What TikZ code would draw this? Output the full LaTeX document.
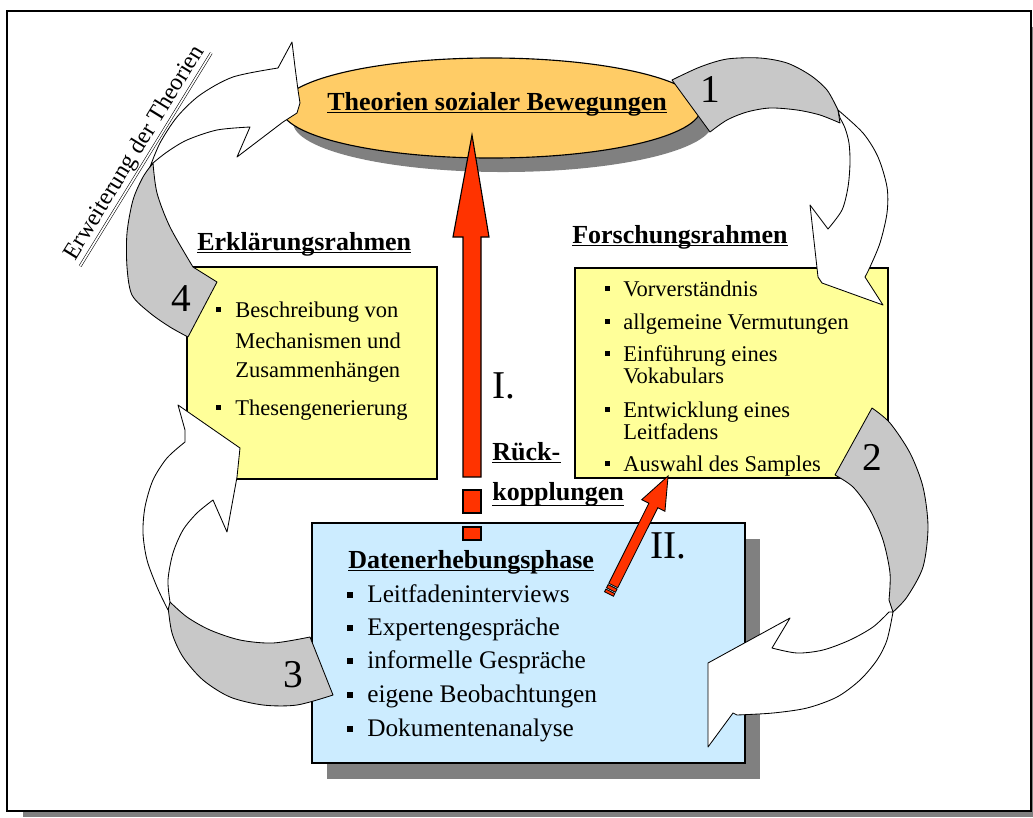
\documentclass[tikz,border=0pt]{standalone}
\usepackage{fontspec}
\setmainfont{Liberation Serif}
\usetikzlibrary{shapes.geometric}
\definecolor{orangefill}{HTML}{FFCC66}
\definecolor{yellowfill}{HTML}{FFFF99}
\definecolor{bluefill}{HTML}{CCECFF}
\definecolor{bandgray}{HTML}{C8C8C8}
\definecolor{shadowgray}{HTML}{808080}
\definecolor{arrowred}{HTML}{FF3300}
\newcommand{\bulletsq}[2]{\fill (#1) ++(-#2,-#2) rectangle ++(2*#2,2*#2);}

\begin{document}
\begin{tikzpicture}[x=0.025cm, y=-0.025cm,
    title/.style={font=\fontsize{18.5}{20}\selectfont\bfseries, anchor=base west, inner sep=0pt},
    item/.style={font=\fontsize{16}{17}\selectfont, anchor=base west, inner sep=0pt},
    dataitem/.style={font=\fontsize{18}{19}\selectfont, anchor=base west, inner sep=0pt},
    num/.style={font=\fontsize{28}{30}\selectfont, anchor=base, inner sep=0pt},
    band/.style={draw=black, line width=0.6pt, line join=round},
    uline/.style={line width=0.8pt}]
    \useasboundingbox (0,0) rectangle (1033,817);
    % frame
    \fill [shadowgray] (23,27) rectangle (1033,817);
    \draw [fill=white, line width=1pt] (7,11) rectangle (1031,811);

    % theory ellipse
    \node [ellipse, fill=shadowgray, minimum width=10.5cm, minimum height=2.5cm] (theoshadow) at (503,122) {};
    \node [ellipse, draw, line width=0.8pt, fill=orangefill, minimum width=10.5cm, minimum height=2.5cm] (theo) at (491,108) {};
    \node [title] (theotxt) at (327,110) {Theorien sozialer Bewegungen};
    \draw [uline] ([yshift=-2pt]theotxt.base west) -- ([yshift=-2pt]theotxt.base east);

    % boxes
    \draw [fill=yellowfill, line width=0.8pt] (187,267) rectangle (437,479);
    \draw [fill=yellowfill, line width=0.8pt] (575,268) rectangle (888,478);
    \fill [shadowgray] (327,539) rectangle (760,779);
    \draw [fill=bluefill, line width=0.8pt] (312,523) rectangle (745,763);

    % red arrow I
    \filldraw [fill=arrowred, line width=0.8pt] (463,477)--(463,237)--(453,237)--(472,135)--(489,237)--(481,237)--(481,477)--cycle;
    \filldraw [fill=arrowred, line width=0.8pt] (463,490) rectangle (481,513);
    \filldraw [fill=arrowred, line width=0.8pt] (463,527) rectangle (481,540);

    % red arrow II
    \begin{scope}[shift={(609,594)}, rotate=63.4]
      \filldraw [fill=arrowred, line width=0.6pt] (0,-5) rectangle (3,5);
      \filldraw [fill=arrowred, line width=0.6pt] (4.5,-5) rectangle (8,5);
      \filldraw [fill=arrowred, line width=0.6pt] (9.5,-5)--(99,-5)--(99,-13)--(132,0)--(99,13)--(99,5)--(9.5,5)--cycle;
    \end{scope}

    % curved arrow 1
    \filldraw [band, fill=bandgray] plot [smooth] coordinates {(672,80) (700,67) (727,59) (760,58) (787,63) (810,75) (827,90) (838,110)}
      -- plot [smooth] coordinates {(840,123) (820,115) (797,110) (770,108) (747,112) (727,120) (710,132)} -- cycle;
    \filldraw [band, fill=white] plot [smooth] coordinates {(838,110) (863,133) (878,157) (887,187) (887,213) (880,243) (870,267) (865,277)}
      -- (883,305) -- (822,283) -- (818,277) -- (810,205) -- (828,229)
      -- plot [smooth] coordinates {(828,229) (842,210) (848,187) (850,163) (849,143) (845,128) (840,118)} -- cycle;
    % curved arrow 2
    \filldraw [band, fill=bandgray] plot [smooth] coordinates {(872,408) (890,423) (910,453) (923,487) (928,527) (923,567) (907,597) (893,612)}
      -- plot [smooth] coordinates {(889,600) (890,573) (883,540) (870,510) (853,487) (835,475)} -- cycle;
    \filldraw [band, fill=white] plot [smooth] coordinates {(893,612) (887,640) (877,660) (860,680) (837,697) (807,708) (773,713) (737,715)}
      -- (733,713) -- (708,747) -- (708,663) -- (790,618) -- (772,648)
      -- plot [smooth] coordinates {(772,648) (797,653) (823,650) (850,640) (873,627) (889,612)} -- cycle;
    % curved arrow 3
    \filldraw [band, fill=bandgray] plot [smooth] coordinates {(168,606) (172,633) (183,657) (203,680) (230,697) (263,705) (297,705) (333,695)}
      -- (310,637) -- plot [smooth] coordinates {(310,637) (273,643) (240,640) (210,630) (187,617) (170,602)} -- cycle;
    \filldraw [band, fill=white] plot [smooth] coordinates {(168,610) (157,587) (147,560) (143,533) (145,507) (153,480) (167,458) (185,442)}
      -- (185,430) -- (178,405) -- (240,448) -- (237,477) -- (227,532) -- (213,500)
      -- plot [smooth] coordinates {(213,500) (197,513) (183,530) (173,553) (168,580) (170,602)} -- cycle;
    % curved arrow 4
    \filldraw [band, fill=bandgray] plot [smooth] coordinates {(153,163) (143,177) (133,200) (127,233) (127,267) (132,295) (150,313) (170,327) (188,337)}
      -- (217,282) -- (193,267) -- plot [smooth] coordinates {(193,267) (170,227) (157,193) (153,163)} -- cycle;
    \filldraw [band, fill=white] plot [smooth] coordinates {(150,167) (160,143) (177,117) (200,95) (233,77) (278,68)}
      -- (292,42) -- (295,67) -- (298,90) -- (300,103) -- (297,113) -- (283,122) -- (237,157) -- (250,127)
      -- plot [smooth] coordinates {(250,127) (217,130) (187,140) (167,152) (153,163)} -- cycle;

    % numbers
    \node [num] (n1) at (710,102) {1};
    \node [num] (n2) at (872,470) {2};
    \node [num] (n3) at (293,687) {3};
    \node [num] (n4) at (181,311) {4};
    \node [num, anchor=base west] (fb1) at (492,398) {I.};
    \node [num, anchor=base west] (fb2) at (650,558) {II.};

    % titles
    \node [title] (erkl) at (197,250) {Erklärungsrahmen};
    \draw [uline] ([yshift=-2pt]erkl.base west) -- ([yshift=-2pt]erkl.base east);
    \node [title] (forsch) at (572,243) {Forschungsrahmen};
    \draw [uline] ([yshift=-2pt]forsch.base west) -- ([yshift=-2pt]forsch.base east);
    \node [title] (daten) at (348,568) {Datenerhebungsphase};
    \draw [uline] ([yshift=-2pt]daten.base west) -- ([yshift=-2pt]daten.base east);
    \node [title] (rueck) at (492,460) {Rück-};
    \draw [uline] ([yshift=-2pt]rueck.base west) -- ([yshift=-2pt]rueck.base east);
    \node [title] (kopp) at (492,500) {kopplungen};
    \draw [uline] ([yshift=-4pt]kopp.base west) -- ([yshift=-4pt]kopp.base east);

    % Erklaerungsrahmen items
    \foreach \y/\txt/\b [count=\i] in {317/Beschreibung von/1, 348/Mechanismen und/0, 377/Zusammenhängen/0, 415/Thesengenerierung/1}{
      \node [item] (e\i) at (235,\y) {\txt};
      \ifnum\b=1 \bulletsq{218,\y-8}{2.5} \fi
    }
    % Forschungsrahmen items
    \foreach \y/\txt/\b [count=\i] in {296/Vorverständnis/1, 329/allgemeine Vermutungen/1, 361/Einführung eines/1, 383/Vokabulars/0,
      417/Entwicklung eines/1, 439/Leitfadens/0, 471/Auswahl des Samples/1}{
      \node [item] (f\i) at (623,\y) {\txt};
      \ifnum\b=1 \bulletsq{607,\y-8}{2.5} \fi
    }
    % Datenerhebung items
    \foreach \y/\txt [count=\i] in {602/Leitfadeninterviews, 635/Expertengespräche, 668/informelle Gespräche,
      702/eigene Beobachtungen, 736/Dokumentenanalyse}{
      \node [dataitem] (d\i) at (367,\y) {\txt};
      \bulletsq{350,\y-7}{3}
    }

    % side label
    \node [rotate=58.4, font=\fontsize{17}{18}\selectfont, inner sep=1pt] (erw) at (135,153) {Erweiterung der Theorien};
    \draw [double, double distance=1.2pt, line width=0.4pt] (erw.south west) -- (erw.south east);
\end{tikzpicture}
\end{document}
